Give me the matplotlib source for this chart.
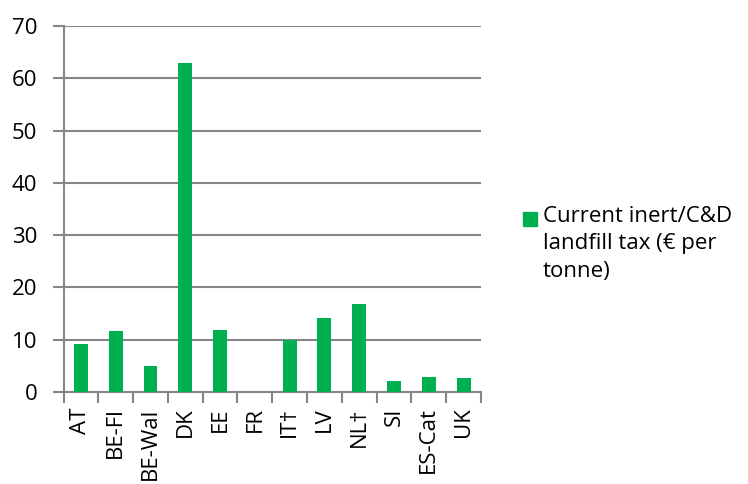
import numpy as np
import matplotlib.pyplot as plt
from matplotlib.patches import Rectangle

# Landfill tax on inert / C&D waste, per country
countries = ['AT', 'BE-Fl', 'BE-Wal', 'DK', 'EE', 'FR', 'IT†', 'LV', 'NL†', 'SI', 'ES-Cat', 'UK']
tax_values = [9.1, 11.6, 4.9, 63.0, 11.9, 0.0, 10.0, 14.1, 16.8, 2.1, 2.9, 2.7]
legend_label = 'Current inert/C&D\nlandfill tax (€ per\ntonne)'
y_ticks = [0, 10, 20, 30, 40, 50, 60, 70]

bar_color = '#00B050'
grid_color = '#868686'

plt.rcParams['font.family'] = ['Open Sans', 'DejaVu Sans']

fig = plt.figure(figsize=(7.48, 4.84), dpi=100)
ax = fig.add_axes([0.085, 0.19, 0.558, 0.756])

x = np.arange(len(countries))
ax.bar(x, tax_values, width=0.4, color=bar_color, zorder=3)

ax.set_xlim(-0.5, len(countries) - 0.5)
ax.set_ylim(0, 70)
ax.set_yticks(y_ticks)
ax.yaxis.grid(True, color=grid_color, linewidth=1.5, zorder=0)

# category labels at centres, tick marks between categories
ax.set_xticks(x)
ax.set_xticklabels(countries, rotation=90, fontsize=16, color='black')
ax.tick_params(axis='x', length=0, pad=11)
ax.set_xticks(np.arange(-0.5, len(countries)), minor=True)
ax.tick_params(axis='x', which='minor', length=8, width=1.5, color=grid_color)
ax.tick_params(axis='y', length=8, width=1.5, color=grid_color, labelsize=16,
               labelcolor='black', pad=11)

for side in ['top', 'right']:
    ax.spines[side].set_visible(False)
for side in ['left', 'bottom']:
    ax.spines[side].set_color(grid_color)
    ax.spines[side].set_linewidth(1.5)

# legend drawn by hand so the marker sits on the first line
fig.add_artist(Rectangle((523 / 748, 1 - 226 / 484), 14 / 748, 14 / 484,
                         transform=fig.transFigure, color=bar_color))
fig.text(543 / 748, 1 - 206 / 484, legend_label, fontsize=16, va='top', ha='left',
         linespacing=1.4, color='black')

fig.savefig('out.png', dpi=100)
